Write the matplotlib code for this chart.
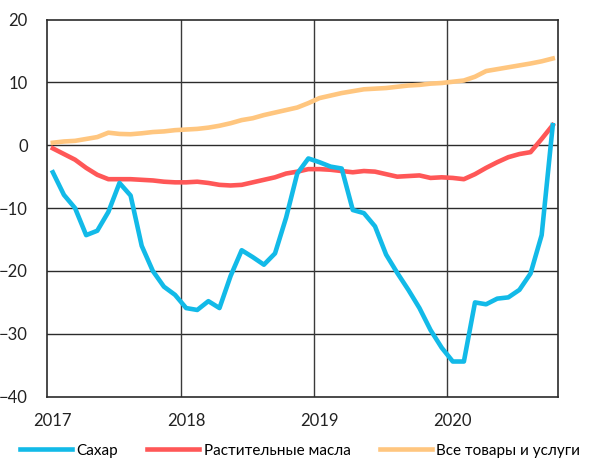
# Price changes, % y/y: sugar, vegetable oils, all goods and services
import matplotlib
matplotlib.use('Agg')
import matplotlib.pyplot as plt
import numpy as np

plt.rcParams['font.family'] = ['Lato', 'DejaVu Sans']
plt.rcParams['font.size'] = 12

# monthly data, Jan 2017 - Oct 2020
sugar = [-4.3, -7.9, -10.0, -14.3, -13.6, -10.6, -6.0, -8.0, -16.0, -20.0, -22.5, -23.8,
         -25.9, -26.2, -24.8, -25.9, -20.8, -16.7, -17.8, -19.0, -17.2, -11.5, -4.5, -2.1,
         -2.7, -3.4, -3.7, -10.3, -10.8, -12.9, -17.4, -20.3, -23.0, -25.9, -29.4, -32.2,
         -34.4, -34.4, -25.0, -25.3, -24.4, -24.2, -23.0, -20.4, -14.3, 3.2]
oils = [-0.5, -1.4, -2.3, -3.6, -4.7, -5.4, -5.4, -5.4, -5.5, -5.6, -5.8, -5.9,
        -5.9, -5.8, -6.0, -6.3, -6.4, -6.3, -5.9, -5.5, -5.1, -4.5, -4.2, -3.8,
        -3.8, -3.9, -4.1, -4.3, -4.1, -4.2, -4.6, -5.0, -4.9, -4.8, -5.2, -5.1,
        -5.2, -5.4, -4.6, -3.6, -2.7, -1.9, -1.4, -1.1, 1.0, 3.2]
cpi = [0.4, 0.6, 0.7, 1.0, 1.3, 2.0, 1.8, 1.75, 1.9, 2.1, 2.2, 2.4,
       2.5, 2.6, 2.8, 3.1, 3.5, 4.0, 4.3, 4.8, 5.2, 5.6, 6.0, 6.7,
       7.5, 7.9, 8.3, 8.6, 8.9, 9.0, 9.1, 9.3, 9.5, 9.6, 9.8, 9.9,
       10.1, 10.3, 10.9, 11.8, 12.1, 12.4, 12.7, 13.0, 13.35, 13.8]
years = ['2017', '2018', '2019', '2020']

x = np.arange(len(sugar)) + 0.5

fig = plt.figure(figsize=(5.91, 4.59), dpi=100)
ax = fig.add_axes([0.080, 0.1357, 0.8647, 0.8218])

ax.plot(x, sugar, color='#12BAE8', lw=3.3, label='Сахар', zorder=5)
ax.plot(x, oils, color='#FF5757', lw=3.3, label='Растительные масла', zorder=4)
ax.plot(x, cpi, color='#FFC67F', lw=3.3, label='Все товары и услуги', zorder=3)

ax.set_xlim(0, len(sugar))
ax.set_ylim(-40, 20)
ax.set_yticks([-40, -30, -20, -10, 0, 10, 20])
ax.set_xticks([0.5, 12.5, 24.5, 36.5])
ax.set_xticklabels(years)

for yv in [-30, -20, -10, 0, 10]:
    ax.axhline(yv, color='#2b2b2b', lw=1.0, zorder=1)
for xv in [12, 24, 36]:
    ax.axvline(xv, color='#3a3a3a', lw=1.0, zorder=1)

for sp in ax.spines.values():
    sp.set_color('#2b2b2b')
    sp.set_linewidth(1.2)

ax.tick_params(length=0, pad=12, labelsize=12, colors='#222222')
ax.tick_params(axis='y', pad=14)

fig.legend(loc='center left', bbox_to_anchor=(0.034, 0.018), ncol=3, frameon=False,
           handlelength=3.4, handletextpad=0.3, columnspacing=1.9,
           borderpad=0, borderaxespad=0, fontsize=11)

plt.savefig('out.png', dpi=100)
